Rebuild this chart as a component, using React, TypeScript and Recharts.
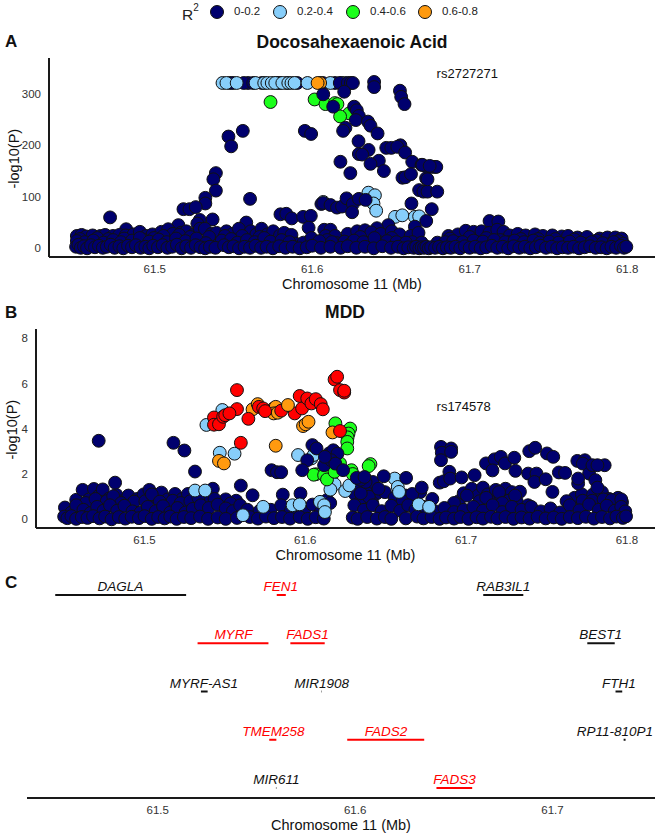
import { ReferenceDot, Scatter, ScatterChart, XAxis, YAxis, ZAxis } from 'recharts';

type Pt = number[];

const NAVY = '#00006e';
const SKY = '#87cefa';
const GREEN = '#1cff1c';
const ORANGE = '#ff9a0f';
const RED = '#ff0000';

const xTicks = [61.5, 61.6, 61.7, 61.8];
const dhaTicks = [0, 100, 200, 300];
const mddTicks = [0, 2, 4, 6, 8];
const geneTicks = [61.5, 61.6, 61.7];

const legendLabels = ['0-0.2', '0.2-0.4', '0.4-0.6', '0.6-0.8'];
const legendColors = [NAVY, SKY, GREEN, ORANGE];

// panel A, LD colour groups, [Mb, -log10 P]
const dhaTopBack: Pt[] = [
  [61.5476, 321], [61.5497, 321], [61.5593, 321], [61.5794, 321], [61.5837, 321], [61.6067, 321],
  [61.5565, 321], [61.5625, 321], [61.568, 321], [61.5775, 321], [61.5905, 321], [61.6145, 321],
];
const dhaSky: Pt[] = [
  [61.543, 321], [61.5455, 321], [61.552, 321], [61.564, 321], [61.5695, 321], [61.5715, 321], [61.5743, 321],
  [61.5765, 321], [61.581, 321], [61.5848, 321], [61.5868, 321], [61.5888, 321], [61.597, 321], [61.6115, 321],
  [61.6205, 321], [61.6185, 321],
  [61.607, 90], [61.6357, 108], [61.6398, 103], [61.6389, 87], [61.6406, 73],
  [61.6526, 61], [61.6572, 64], [61.6652, 61], [61.6679, 62],
];
const dhaGreen: Pt[] = [
  [61.5735, 284], [61.6015, 289], [61.6084, 280], [61.6144, 282], [61.616, 280], [61.6235, 262], [61.6177, 256],
];
const dhaOrange: Pt[] = [[61.605, 321], [61.6034, 321]];
const dhaUpper: Pt[] = [
  [61.6175, 321], [61.6226, 321], [61.6245, 321], [61.6258, 321], [61.6393, 323], [61.6393, 313], [61.6557, 306], [61.6565, 294],
  [61.6586, 280], [61.607, 299], [61.6203, 304], [61.6133, 275], [61.6266, 275], [61.6283, 268], [61.6296, 257],
  [61.6277, 249], [61.6354, 246], [61.637, 238], [61.6415, 223], [61.6211, 234], [61.6196, 228], [61.5953, 228],
  [61.5993, 222], [61.5559, 228], [61.5468, 217], [61.5485, 198], [61.6294, 208], [61.6358, 191], [61.6296, 183],
  [61.6317, 182], [61.6179, 168], [61.6423, 170], [61.637, 164], [61.6455, 150], [61.6242, 146], [61.647, 195],
  [61.6502, 195], [61.656, 200], [61.654, 197], [61.659, 186], [61.6635, 168], [61.6694, 162], [61.673, 158],
  [61.678, 158], [61.6758, 158], [61.6573, 137], [61.6592, 138], [61.6627, 144], [61.6723, 136],
  [61.5388, 146], [61.5372, 134], [61.5388, 112], [61.5321, 98], [61.5321, 87], [61.5605, 96], [61.5182, 76],
  [61.522, 76], [61.526, 80], [61.4716, 60], [61.5798, 66], [61.5835, 67], [61.587, 58], [61.5942, 61],
  [61.5991, 63], [61.5977, 40], [61.5367, 56], [61.5286, 55], [61.527, 48], [61.515, 45], [61.5581, 50],
  [61.4818, 37], [61.6058, 86], [61.607, 88], [61.6116, 84], [61.6157, 79], [61.6189, 81], [61.6218, 97],
  [61.6258, 86], [61.6253, 70], [61.6296, 96], [61.6339, 94], [61.663, 87], [61.6759, 76], [61.6724, 53],
  [61.6679, 113], [61.6706, 110], [61.6732, 110], [61.6794, 110], [61.6732, 134], [61.67, 162], [61.6788, 158],
  [61.6746, 160], [61.7126, 53], [61.7182, 52], [61.6652, 42], [61.6483, 45], [61.6411, 39], [61.6076, 36],
  [61.6116, 36],
];
const dhaBandLow: Pt[] = [
  [61.45, 3], [61.4515, 7], [61.453, 1], [61.455, 4], [61.457, 0], [61.4595, 6], [61.462, 2], [61.4645, 5],
  [61.467, 1], [61.4695, 3], [61.472, 7], [61.4745, 1], [61.4775, 4], [61.48, 0], [61.483, 5], [61.4855, 2],
  [61.488, 6], [61.491, 1], [61.494, 3], [61.4965, 0], [61.499, 5], [61.502, 2], [61.505, 6], [61.508, 1],
  [61.511, 3], [61.514, 7], [61.517, 0], [61.52, 4], [61.523, 1], [61.526, 6], [61.529, 2], [61.532, 0],
  [61.535, 3], [61.5385, 1], [61.544, 6], [61.547, 2], [61.55, 4], [61.5535, 0], [61.557, 3], [61.5605, 1],
  [61.564, 5], [61.5675, 1], [61.571, 3], [61.575, 0], [61.579, 4], [61.583, 1], [61.5875, 3], [61.592, 0],
  [61.5965, 2], [61.6, 5], [61.6055, 1], [61.6115, 3], [61.618, 1], [61.6225, 4], [61.628, 1], [61.6335, 3],
  [61.639, 0], [61.6445, 4], [61.65, 1], [61.6545, 3], [61.658, 0], [61.661, 2], [61.6645, 1], [61.666, 3],
  [61.668, 0], [61.6695, 2], [61.671, 1], [61.6725, 3], [61.674, 0], [61.6755, 2], [61.678, 1], [61.6805, 3],
  [61.683, 0], [61.6855, 2], [61.688, 1], [61.691, 3], [61.694, 0], [61.697, 4], [61.7, 1], [61.7035, 3],
  [61.707, 0], [61.7105, 2], [61.714, 5], [61.7175, 1], [61.721, 3], [61.7245, 0], [61.728, 4], [61.7315, 1],
  [61.735, 3], [61.7385, 0], [61.742, 2], [61.745, 5], [61.7485, 1], [61.752, 3], [61.7555, 0], [61.759, 2],
  [61.7625, 1], [61.766, 3], [61.7695, 0], [61.773, 2], [61.7765, 4], [61.78, 1], [61.7835, 2], [61.787, 0],
  [61.79, 3], [61.793, 1], [61.796, 5], [61.798, 1], [61.7995, 3],
];
const dhaBandMid: Pt[] = [
  [61.4505, 14], [61.4555, 12], [61.461, 15], [61.4675, 11], [61.4735, 16], [61.4785, 12], [61.4855, 15],
  [61.4905, 20], [61.4965, 13], [61.5025, 17], [61.5075, 12], [61.5135, 19], [61.5195, 14], [61.5265, 19],
  [61.5325, 10], [61.5425, 15], [61.5485, 18], [61.5525, 11], [61.5585, 16], [61.5635, 12], [61.5695, 20],
  [61.5735, 13], [61.5805, 16], [61.5855, 12], [61.5995, 20], [61.6045, 14], [61.6125, 12], [61.6265, 15],
  [61.6325, 12], [61.6395, 20], [61.6475, 14], [61.6535, 12], [61.6595, 11], [61.6845, 12], [61.6895, 14],
  [61.6955, 12], [61.7025, 15], [61.7085, 13], [61.7155, 16], [61.7225, 12], [61.7285, 15], [61.7345, 12],
  [61.7405, 15], [61.7445, 11], [61.7505, 13], [61.7565, 11], [61.7635, 13], [61.7705, 11], [61.7775, 12],
  [61.7845, 10], [61.7915, 12], [61.7975, 9],
];
const dhaBandFill: Pt[] = [
  [61.4525, 18], [61.4585, 9], [61.4635, 20], [61.4705, 18], [61.4755, 8], [61.4805, 19], [61.4885, 9],
  [61.4925, 17], [61.4995, 20], [61.5055, 24], [61.5105, 9], [61.5155, 26], [61.5225, 22], [61.5285, 12],
  [61.5345, 22], [61.5405, 8], [61.5445, 24], [61.5505, 10], [61.5555, 24], [61.5605, 10], [61.5665, 22],
  [61.5775, 9], [61.5835, 10], [61.5895, 9], [61.5945, 11], [61.6025, 9], [61.6095, 16], [61.6155, 10],
  [61.6205, 13], [61.6245, 9], [61.6305, 22], [61.6355, 10], [61.6425, 12], [61.6505, 20], [61.6565, 8],
  [61.6635, 12], [61.6695, 11], [61.6795, 11], [61.6875, 19], [61.6925, 10], [61.7, 22], [61.7055, 11],
  [61.7105, 20], [61.7195, 16], [61.7255, 12], [61.7325, 18], [61.7385, 11], [61.7435, 18], [61.7545, 18],
  [61.7605, 9], [61.7665, 17], [61.7735, 8], [61.7805, 15], [61.7885, 8], [61.7945, 14],
];
const dhaBandHigh: Pt[] = [
  [61.4505, 24], [61.4535, 26], [61.4565, 23], [61.4605, 25], [61.4655, 24], [61.4685, 26], [61.4735, 24],
  [61.4775, 26], [61.4815, 25], [61.4865, 27], [61.4905, 32], [61.4945, 24], [61.4985, 27], [61.5042, 32],
  [61.5085, 37], [61.5115, 28], [61.5165, 30], [61.52, 33], [61.5245, 26], [61.5286, 38], [61.5318, 38],
  [61.536, 28], [61.5392, 30], [61.5455, 33], [61.5495, 28], [61.5534, 38], [61.561, 33], [61.5645, 27],
  [61.5678, 38], [61.5715, 27], [61.5752, 33], [61.5795, 25], [61.5822, 30], [61.5868, 26], [61.6085, 24],
  [61.6145, 24], [61.6225, 28], [61.6285, 33], [61.6335, 35], [61.6375, 31], [61.6435, 28], [61.6505, 33],
  [61.6555, 27], [61.6625, 24], [61.6675, 30], [61.6865, 24], [61.6925, 27], [61.6975, 34], [61.7025, 32],
  [61.7075, 33], [61.7125, 30], [61.7175, 36], [61.7215, 32], [61.7255, 25], [61.7305, 28], [61.7355, 25],
  [61.7415, 27], [61.7465, 24], [61.7525, 25], [61.7585, 23], [61.7625, 24], [61.7685, 21], [61.7745, 22],
  [61.7825, 19], [61.7875, 21], [61.7925, 21], [61.7965, 19],
];

// panel B groups
const mddRed: Pt[] = [
  [61.5575, 5.71], [61.5599, 3.38], [61.5575, 4.87], [61.5432, 4.5], [61.5432, 4.18], [61.5463, 4.2], [61.5489, 4.53],
  [61.5502, 4.6], [61.5528, 4.68], [61.5646, 4.44], [61.5711, 4.97], [61.5738, 4.9], [61.575, 4.78], [61.585, 4.8],
  [61.5934, 4.68], [61.5965, 5.45], [61.598, 4.9], [61.6012, 5.34], [61.6038, 5.12], [61.6065, 5.31], [61.6096, 5.09],
  [61.6109, 4.86], [61.6182, 6.18], [61.6198, 6.3], [61.6216, 5.71], [61.6242, 5.6], [61.6242, 5.68], [61.6216, 3.9],
];
const mddOrange: Pt[] = [
  [61.5672, 4.86], [61.5704, 5.09], [61.5803, 4.9], [61.5816, 4.97], [61.5803, 4.68], [61.5829, 4.71], [61.5986, 4.12],
  [61.6002, 4.2], [61.602, 4.31], [61.5816, 3.25], [61.5463, 2.58], [61.5494, 2.47], [61.6169, 3.84],
];
const mddOrangeTop: Pt[] = [[61.5892, 5.05]];
const mddGreen: Pt[] = [
  [61.6187, 4.24], [61.6279, 4.01], [61.6269, 3.79], [61.6263, 3.62], [61.6261, 3.42], [61.6261, 3.13], [61.6405, 2.44],
  [61.6394, 2.35], [61.6065, 1.99], [61.6052, 1.97], [61.6117, 1.95], [61.6135, 1.76], [61.6216, 2.47], [61.6287, 2.17],
  [61.6295, 2], [61.6182, 2.1],
];
const mddSky: Pt[] = [
  [61.5385, 4.17], [61.5484, 4.83], [61.5468, 2.94], [61.556, 2.9], [61.5955, 2.84], [61.6038, 2.69], [61.6052, 2.84],
  [61.5314, 1.27], [61.5377, 1.27], [61.6182, 1.55], [61.6156, 1.31], [61.6248, 1.25], [61.6556, 1.8], [61.6575, 1.43],
  [61.6583, 1.21], [61.6705, 0.66], [61.677, 0.55], [61.5612, 0.18], [61.5738, 0.55], [61.5921, 0.62], [61.5965, 0.66],
  [61.6091, 0.77], [61.6117, 0.62], [61.6122, 0.32], [61.6274, 1.5],
];
const mddUpper: Pt[] = [
  [61.4715, 3.47], [61.518, 3.38], [61.5248, 3.04], [61.5314, 2.11], [61.4817, 1.62], [61.5599, 1.49], [61.579, 2.17],
  [61.5824, 2.08], [61.585, 2.08], [61.6044, 3.28], [61.607, 3.13], [61.6012, 2.61], [61.5981, 2.17], [61.6117, 2.39],
  [61.6148, 2.91], [61.6174, 3.05], [61.62, 2.9], [61.6161, 2.61], [61.6187, 2.46], [61.6122, 2.76], [61.6235, 2.17],
  [61.632, 1.83], [61.6368, 1.87], [61.6488, 1.9], [61.6627, 1.83],
  [61.6844, 3.2], [61.6907, 3.13], [61.6849, 2.94], [61.6907, 2.98], [61.6844, 2.61], [61.6896, 2.1], [61.6836, 1.62],
  [61.6862, 1.68], [61.6901, 1.8], [61.6972, 1.85], [61.7053, 1.95], [61.6724, 1.4], [61.7124, 2.47], [61.7177, 2.65],
  [61.7216, 2.76], [61.7164, 2.16], [61.7242, 2.47], [61.73, 2.72], [61.7307, 2.14], [61.7393, 3.01], [61.743, 3.16],
  [61.7386, 2.02], [61.7438, 2.02], [61.7425, 1.65], [61.7495, 1.77], [61.7503, 2.91], [61.7542, 2.76], [61.7577, 2.07],
  [61.7616, 2.05], [61.7692, 2.58], [61.7739, 2.61], [61.7726, 2.46], [61.7765, 2.02], [61.7804, 1.73], [61.7786, 2.39],
  [61.7862, 2.39], [61.7817, 2.39], [61.7697, 1.58], [61.7697, 1.8], [61.7817, 1.4], [61.7537, 1.21],
];
const mddBandLow: Pt[] = [
  [61.45, 0.12], [61.452, 0.05], [61.4545, 0.14], [61.4575, 0.02], [61.461, 0.1], [61.4645, 0.06], [61.468, 0.14],
  [61.472, 0.04], [61.4755, 0.12], [61.4795, 0], [61.484, 0.1], [61.488, 0.03], [61.492, 0.11], [61.4965, 0.05],
  [61.5, 0.14], [61.5045, 0.02], [61.5085, 0.1], [61.5125, 0.04], [61.516, 0.12], [61.52, 0.02], [61.5245, 0.1],
  [61.529, 0.05], [61.5345, 0.12], [61.5395, 0.02], [61.5455, 0.08], [61.5505, 0.02], [61.5575, 0.06], [61.5655, 0.1],
  [61.5705, 0.03], [61.5755, 0.12], [61.5805, 0.05], [61.5855, 0.1], [61.5905, 0.03], [61.5965, 0.1], [61.6015, 0.02],
  [61.6065, 0.09], [61.6115, 0.03], [61.6295, 0.08], [61.6325, 0.02], [61.6385, 0.1], [61.6445, 0.03], [61.6495, 0.1],
  [61.6535, 0.02], [61.6625, 0.04], [61.6695, 0.12], [61.6735, 0.04], [61.6785, 0.1], [61.6835, 0.02], [61.6875, 0.08],
  [61.6925, 0.03], [61.6965, 0.1], [61.7015, 0.02], [61.7065, 0.09], [61.7105, 0.03], [61.7155, 0.11], [61.7195, 0.04],
  [61.7245, 0.1], [61.7295, 0.02], [61.7345, 0.08], [61.7395, 0.03], [61.7445, 0.11], [61.7495, 0.04], [61.7545, 0.08],
  [61.7595, 0.02], [61.7645, 0.1], [61.7695, 0.05], [61.7745, 0.11], [61.7795, 0.03], [61.7845, 0.1], [61.7895, 0.04],
  [61.7935, 0.12], [61.7975, 0.06], [61.7995, 0.13],
];
const mddBandMid: Pt[] = [
  [61.4505, 0.52], [61.4545, 0.3], [61.4575, 0.62], [61.462, 0.42], [61.4665, 0.28], [61.4705, 0.55], [61.4745, 0.38],
  [61.4785, 0.62], [61.483, 0.38], [61.4875, 0.6], [61.4925, 0.35], [61.4975, 0.3], [61.502, 0.55], [61.507, 0.36],
  [61.5115, 0.58], [61.516, 0.3], [61.5205, 0.5], [61.5255, 0.3], [61.53, 0.46], [61.535, 0.62], [61.54, 0.5],
  [61.5455, 0.65], [61.5505, 0.48], [61.555, 0.36], [61.5595, 0.62], [61.564, 0.42], [61.5715, 0.36], [61.5785, 0.42],
  [61.585, 0.62], [61.591, 0.38], [61.5995, 0.42], [61.6045, 0.65], [61.6095, 0.3], [61.6155, 0.72], [61.6305, 0.62],
  [61.6365, 0.42], [61.642, 0.62], [61.6475, 0.36], [61.6535, 0.6], [61.659, 0.38], [61.664, 0.62], [61.6685, 0.42],
  [61.6735, 0.55], [61.6805, 0.36], [61.6865, 0.5], [61.6925, 0.32], [61.6985, 0.42], [61.7045, 0.55], [61.7105, 0.38],
  [61.7165, 0.62], [61.7225, 0.32], [61.7285, 0.55], [61.7345, 0.42], [61.7405, 0.55], [61.7465, 0.35], [61.7525, 0.48],
  [61.7585, 0.3], [61.7645, 0.62], [61.7705, 0.4], [61.7765, 0.66], [61.7825, 0.42], [61.7875, 0.6], [61.7925, 0.38],
  [61.7965, 0.55], [61.799, 0.35],
];
const mddBandFill: Pt[] = [
  [61.4635, 0.72], [61.4695, 0.9], [61.4765, 0.8], [61.4805, 1.02], [61.4855, 0.72], [61.4935, 0.78], [61.5005, 0.8],
  [61.5045, 1.1], [61.5095, 0.78], [61.5175, 0.82], [61.5225, 0.72], [61.5285, 0.8], [61.5335, 0.95], [61.5435, 0.9],
  [61.5535, 0.7], [61.6395, 1.0], [61.6345, 1.15], [61.6455, 1.35], [61.6375, 1.65], [61.6345, 1.75], [61.6555, 0.95],
  [61.6605, 0.8], [61.6665, 1.12], [61.6925, 0.72], [61.7005, 1.05], [61.7085, 0.8], [61.7125, 0.95], [61.7205, 1.2],
  [61.7265, 0.82], [61.7305, 1.05], [61.7225, 0.72], [61.7385, 0.62], [61.7625, 0.8], [61.7725, 0.82], [61.7785, 0.82],
  [61.7855, 0.88], [61.7905, 0.85], [61.7965, 0.88],
];
const mddBandHigh: Pt[] = [
  [61.4575, 0.86], [61.4615, 1.3], [61.4655, 0.88], [61.4685, 1.34], [61.4715, 1.03], [61.474, 1.32], [61.478, 0.92],
  [61.4825, 1.08], [61.4865, 0.8], [61.49, 1.05], [61.4955, 0.9], [61.4995, 1.1], [61.503, 1.3], [61.5065, 0.95],
  [61.5105, 1.18], [61.5145, 0.88], [61.519, 1.12], [61.5235, 0.9], [61.527, 1.12], [61.532, 0.85], [61.5395, 0.88],
  [61.5425, 1.35], [61.5505, 0.88], [61.557, 0.82], [61.5672, 1.06], [61.586, 1.09], [61.597, 1.14], [61.6135, 0.85],
  [61.631, 1.1], [61.6345, 1.45], [61.638, 0.95], [61.6345, 0.8], [61.6395, 1.3], [61.642, 1.65], [61.6445, 1.15],
  [61.6415, 0.75], [61.6495, 1.2], [61.6625, 1.05], [61.667, 0.85], [61.6715, 1.2], [61.679, 0.9], [61.6955, 0.8],
  [61.6985, 1.15], [61.7035, 1.35], [61.7075, 1.05], [61.7105, 1.4], [61.7135, 1.1], [61.7155, 0.85], [61.7185, 1.3],
  [61.7215, 1.05], [61.7245, 1.35], [61.7285, 1.2], [61.7315, 0.8], [61.7335, 1.22], [61.7675, 0.95], [61.7745, 0.85],
  [61.772, 1.1], [61.779, 1.1], [61.7845, 1.2], [61.789, 0.9], [61.7945, 0.95], [61.797, 0.75],
];

// panel C
const geneNames = ['DAGLA', 'FEN1', 'RAB3IL1', 'MYRF', 'FADS1', 'BEST1', 'MYRF-AS1', 'MIR1908', 'FTH1', 'TMEM258', 'FADS2', 'RP11-810P1', 'MIR611', 'FADS3'];
const geneStart = [61.4481, 61.5603, 61.6649, 61.5202, 61.5672, 61.7176, 61.5219, 61.5828, 61.7319, 61.5565, 61.596, 61.736, 61.5599, 61.6412];
const geneEnd = [61.5144, 61.5649, 61.6852, 61.5561, 61.5846, 61.7315, 61.5253, 61.583, 61.7353, 61.5601, 61.635, 61.737, 61.5601, 61.6593];
const geneLabelX = [61.4811, 61.5623, 61.6751, 61.5384, 61.5759, 61.7244, 61.5234, 61.583, 61.7336, 61.5586, 61.6156, 61.7316, 61.5601, 61.6504];
const geneRow = [5, 5, 5, 4, 4, 4, 3, 3, 3, 2, 2, 2, 1, 1];
const geneHit = [false, true, false, true, true, false, false, false, false, true, true, false, false, true];

const toRows = (pts: Pt[]) => pts.map(([x, y]) => ({ x, y }));

const tickStyle = { fontSize: 11.5, fill: '#333', fontFamily: 'Liberation Sans' };
const axisTitle = { fontSize: 14.5, fill: '#111', fontFamily: 'Liberation Sans' };
const axisLine = { stroke: '#1a1a1a', strokeWidth: 2 };

function Dots({ data, fill }: { data: Pt[]; fill: string }) {
  return (
    <Scatter
      data={toRows(data)}
      dataKey="y"
      fill={fill}
      stroke="#111"
      strokeWidth={1}
      isAnimationActive={false}
    />
  );
}

function Heading({ text, left, top, size, center }: { text: string; left: number; top: number; size: number; center?: boolean }) {
  return (
    <div
      style={{
        position: 'absolute',
        left,
        top,
        fontSize: size,
        fontWeight: 700,
        fontFamily: 'Liberation Sans',
        color: '#111',
        lineHeight: 1,
        whiteSpace: 'nowrap',
        transform: center ? 'translateX(-50%)' : undefined,
      }}
    >
      {text}
    </div>
  );
}

function LegendRow() {
  const spots = [216, 279, 352, 424];
  return (
    <div style={{ position: 'absolute', left: 0, top: 0, width: 659, height: 26, fontFamily: 'Liberation Sans', color: '#222' }}>
      <div style={{ position: 'absolute', left: 182, top: 7, fontSize: 15.5, lineHeight: 1 }}>
        R<sup style={{ fontSize: 10, position: 'relative', top: -4, verticalAlign: 'top' }}>2</sup>
      </div>
      {legendLabels.map((label, i) => (
        <div key={label}>
          <div
            style={{
              position: 'absolute',
              left: spots[i] - 6,
              top: 5,
              width: 12,
              height: 12,
              borderRadius: '50%',
              background: legendColors[i],
              border: '1px solid #111',
            }}
          />
          <div style={{ position: 'absolute', left: spots[i] + 18, top: 5, fontSize: 11.5, lineHeight: '13px' }}>{label}</div>
        </div>
      ))}
    </div>
  );
}

export default function App() {
  return (
    <div style={{ position: 'absolute', left: 0, top: 0, width: 659, height: 836, background: '#fff', overflow: 'hidden' }}>
      <LegendRow />
      <Heading text="A" left={5} top={33} size={17} />
      <Heading text="Docosahexaenoic Acid" left={352} top={34} size={17.5} center />
      <Heading text="B" left={5} top={304} size={17} />
      <Heading text="MDD" left={345} top={304} size={17.5} center />
      <Heading text="C" left={5} top={574} size={17} />

      <div style={{ position: 'absolute', left: 0, top: 0 }}>
        <ScatterChart width={659} height={300} margin={{ top: 58, right: 4, bottom: 13, left: 0 }}>
          <XAxis
            type="number"
            dataKey="x"
            domain={[61.4328, 61.8177]}
            ticks={xTicks}
            tick={tickStyle}
            tickLine={false}
            axisLine={axisLine}
            height={30}
            tickFormatter={(v: number) => v.toFixed(1)}
            label={{ value: 'Chromosome 11 (Mb)', position: 'insideBottom', offset: 0, dy: 2, style: axisTitle }}
          />
          <YAxis
            type="number"
            dataKey="y"
            width={49}
            domain={[-16.9, 369.5]}
            ticks={dhaTicks}
            tick={tickStyle}
            tickLine={false}
            axisLine={axisLine}
            label={{ value: '-log10(P)', angle: -90, position: 'insideLeft', offset: 14, dy: 31, style: axisTitle }}
          />
          <ZAxis range={[130, 130]} />
          <Dots data={dhaTopBack} fill={NAVY} />
          <Dots data={dhaSky} fill={SKY} />
          <Dots data={dhaGreen} fill={GREEN} />
          <Dots data={dhaOrange} fill={ORANGE} />
          <Dots data={dhaUpper} fill={NAVY} />
          <Dots data={dhaBandHigh} fill={NAVY} />
          <Dots data={dhaBandFill} fill={NAVY} />
          <Dots data={dhaBandMid} fill={NAVY} />
          <Dots data={dhaBandLow} fill={NAVY} />
          <ReferenceDot
            x={61.6985}
            y={339}
            r={0}
            label={{ value: 'rs2727271', position: 'center', style: { fontSize: 13, fill: '#111', fontFamily: 'Liberation Sans' } }}
          />
        </ScatterChart>
      </div>

      <div style={{ position: 'absolute', left: 0, top: 300 }}>
        <ScatterChart width={659} height={270} margin={{ top: 29, right: 4, bottom: 12, left: 0 }}>
          <XAxis
            type="number"
            dataKey="x"
            domain={[61.4325, 61.8175]}
            ticks={xTicks}
            tick={tickStyle}
            tickLine={false}
            axisLine={axisLine}
            height={30}
            tickFormatter={(v: number) => v.toFixed(1)}
            label={{ value: 'Chromosome 11 (Mb)', position: 'insideBottom', offset: 0, dy: 2, style: axisTitle }}
          />
          <YAxis
            type="number"
            dataKey="y"
            width={36}
            domain={[-0.385, 8.41]}
            ticks={mddTicks}
            tick={tickStyle}
            tickLine={false}
            axisLine={axisLine}
            label={{ value: '-log10(P)', angle: -90, position: 'insideLeft', offset: 12, dy: 31, style: axisTitle }}
          />
          <ZAxis range={[130, 130]} />
          <Dots data={mddBandHigh} fill={NAVY} />
          <Dots data={mddBandFill} fill={NAVY} />
          <Dots data={mddBandMid} fill={NAVY} />
          <Dots data={mddBandLow} fill={NAVY} />
          <Dots data={mddSky} fill={SKY} />
          <Dots data={mddGreen} fill={GREEN} />
          <Dots data={mddUpper} fill={NAVY} />
          <Dots data={mddOrange} fill={ORANGE} />
          <Dots data={mddRed} fill={RED} />
          <Dots data={mddOrangeTop} fill={ORANGE} />
          <ReferenceDot
            x={61.6985}
            y={4.97}
            r={0}
            label={{ value: 'rs174578', position: 'center', style: { fontSize: 13, fill: '#111', fontFamily: 'Liberation Sans' } }}
          />
        </ScatterChart>
      </div>

      <div style={{ position: 'absolute', left: 0, top: 565 }}>
        <ScatterChart width={659} height={271} margin={{ top: 5, right: 4, bottom: 8, left: 27 }}>
          <XAxis
            type="number"
            dataKey="x"
            domain={[61.4338, 61.7519]}
            ticks={geneTicks}
            tick={tickStyle}
            tickLine={false}
            axisLine={axisLine}
            height={30}
            tickFormatter={(v: number) => v.toFixed(1)}
            label={{ value: 'Chromosome 11 (Mb)', position: 'insideBottom', offset: 0, dy: 2, style: axisTitle }}
          />
          <YAxis type="number" dataKey="y" hide domain={[0.793, 5.518]} />
          {geneNames.map((name, i) => (
            <Scatter
              key={name}
              data={[
                { x: geneStart[i], y: geneRow[i] },
                { x: geneEnd[i], y: geneRow[i] },
              ]}
              line={{ stroke: geneHit[i] ? '#f00' : '#111', strokeWidth: 2 }}
              shape={() => <g />}
              isAnimationActive={false}
            />
          ))}
          {geneNames.map((name, i) => (
            <ReferenceDot
              key={name}
              x={geneLabelX[i]}
              y={geneRow[i] + 0.18}
              r={0}
              label={{
                value: name,
                position: 'center',
                style: { fontSize: 13.5, fontStyle: 'italic', fill: geneHit[i] ? '#f00' : '#111', fontFamily: 'Liberation Sans' },
              }}
            />
          ))}
        </ScatterChart>
      </div>
    </div>
  );
}
